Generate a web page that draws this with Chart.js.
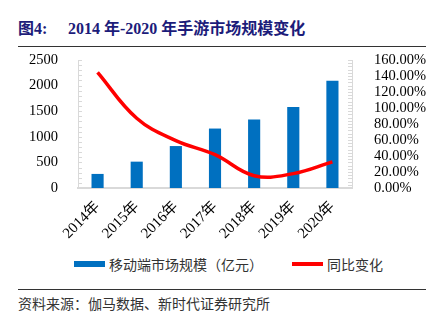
<!DOCTYPE html>
<html>
<head>
<meta charset="utf-8">
<script src="https://cdn.jsdelivr.net/npm/chart.js@4.4.0/dist/chart.umd.min.js"></script>
<style>
  body { margin: 0; width: 433px; height: 321px; background: #fff; position: relative; overflow: hidden; font-family: "Noto Sans CJK SC", sans-serif; }
  .title { position: absolute; top: 15px; font: bold 16px "Liberation Serif", "Noto Sans CJK SC", serif; color: #1c1c7a; white-space: nowrap; }
  .rule { position: absolute; left: 18px; width: 408px; height: 1px; background: #333; }
  #wrap { position: absolute; left: 0; top: 0; width: 433px; height: 250px; }
  .key { position: absolute; }
  .lbl { position: absolute; top: 254px; font-size: 14px; color: #333; white-space: nowrap; }
  #source { position: absolute; left: 18px; top: 293px; font-size: 14px; color: #333; white-space: nowrap; }
</style>
</head>
<body>
<div class="title" style="left:18px">图4:</div>
<div class="title" style="left:68px">2014 年-2020 年手游市场规模变化</div>
<div class="rule" style="top:46px"></div>
<div id="wrap"><canvas id="chart"></canvas></div>
<div class="key" style="left:74px;top:261px;width:31px;height:6px;background:#0070c0"></div>
<div class="lbl" style="left:109px">移动端市场规模（亿元）</div>
<div class="key" style="left:292px;top:262px;width:31px;height:4px;background:#ff0000"></div>
<div class="lbl" style="left:327px">同比变化</div>
<div class="rule" style="top:289px"></div>
<div id="source">资料来源：伽马数据、新时代证券研究所</div>
<script>
// mobile game market, 2014-2020
var years = ["2014年", "2015年", "2016年", "2017年", "2018年", "2019年", "2020年"];
var marketSize = [274.9, 514.6, 819.2, 1161.2, 1339.6, 1581.1, 2096.8];   // 亿元
var growth = [1.446, 0.872, 0.592, 0.417, 0.154, 0.180, 0.326];          // 同比
var sizeMax = 2500, sizeStep = 500, sizeMinor = 100;
var growthMax = 1.6, growthStep = 0.2, growthMinor = 0.04;

var serif = "'Liberation Serif', 'Noto Sans CJK SC', serif";
var axisGray = "#d9d9d9";

// small inward tick marks along both value axes
var minorTicks = {
  id: "minorTicks",
  afterDraw: function (chart) {
    var ctx = chart.ctx;
    var area = chart.chartArea;
    var left = chart.scales.y, right = chart.scales.y1;
    ctx.save();
    ctx.strokeStyle = axisGray;
    ctx.lineWidth = 1;
    ctx.beginPath();
    for (var v = 0; v <= sizeMax + 0.001; v += sizeMinor) {
      var py = Math.round(left.getPixelForValue(v)) + 0.5;
      ctx.moveTo(area.left, py);
      ctx.lineTo(area.left + 4, py);
    }
    for (var g = 0; g <= growthMax + 0.0001; g += growthMinor) {
      var qy = Math.round(right.getPixelForValue(g)) + 0.5;
      ctx.moveTo(area.right, qy);
      ctx.lineTo(area.right - 4, qy);
    }
    ctx.stroke();
    ctx.restore();
  }
};

new Chart("chart", {
  data: {
    labels: years,
    datasets: [{
      type: "line",
      label: "同比变化",
      data: growth,
      yAxisID: "y1",
      borderColor: "#ff0000",
      borderWidth: 3.5,
      tension: 0.4,
      pointRadius: 0,
      fill: false,
      order: 0
    }, {
      type: "bar",
      label: "移动端市场规模（亿元）",
      data: marketSize,
      yAxisID: "y",
      backgroundColor: "#0070c0",
      categoryPercentage: 1,
      barPercentage: 0.31,
      order: 1
    }]
  },
  options: {
    responsive: true,
    maintainAspectRatio: false,
    animation: false,
    layout: { padding: { top: 60, left: 0, right: 0, bottom: 0 } },
    plugins: { legend: { display: false }, tooltip: { enabled: false } },
    scales: {
      x: {
        grid: { display: false },
        border: { color: axisGray, width: 2 },
        ticks: { color: "#000", font: { family: serif, size: 15 }, minRotation: 45, maxRotation: 45, padding: 2 },
        afterFit: function (s) { s.height = 62; }
      },
      y: {
        position: "left",
        min: 0,
        max: sizeMax,
        grid: { display: false },
        border: { color: axisGray, width: 1 },
        ticks: {
          stepSize: sizeStep,
          autoSkip: false,
          color: "#000",
          font: { family: serif, size: 14.5 },
          padding: 12,
          callback: function (v) { return String(v); }
        },
        afterFit: function (s) { s.width = 78; }
      },
      y1: {
        position: "right",
        min: 0,
        max: growthMax,
        grid: { display: false },
        border: { color: axisGray, width: 1 },
        ticks: {
          stepSize: growthStep,
          autoSkip: false,
          color: "#000",
          font: { family: serif, size: 14.5 },
          padding: 14,
          callback: function (v) { return (v * 100).toFixed(2) + "%"; }
        },
        afterFit: function (s) { s.width = 81; }
      }
    }
  },
  plugins: [minorTicks]
});
</script>
</body>
</html>
